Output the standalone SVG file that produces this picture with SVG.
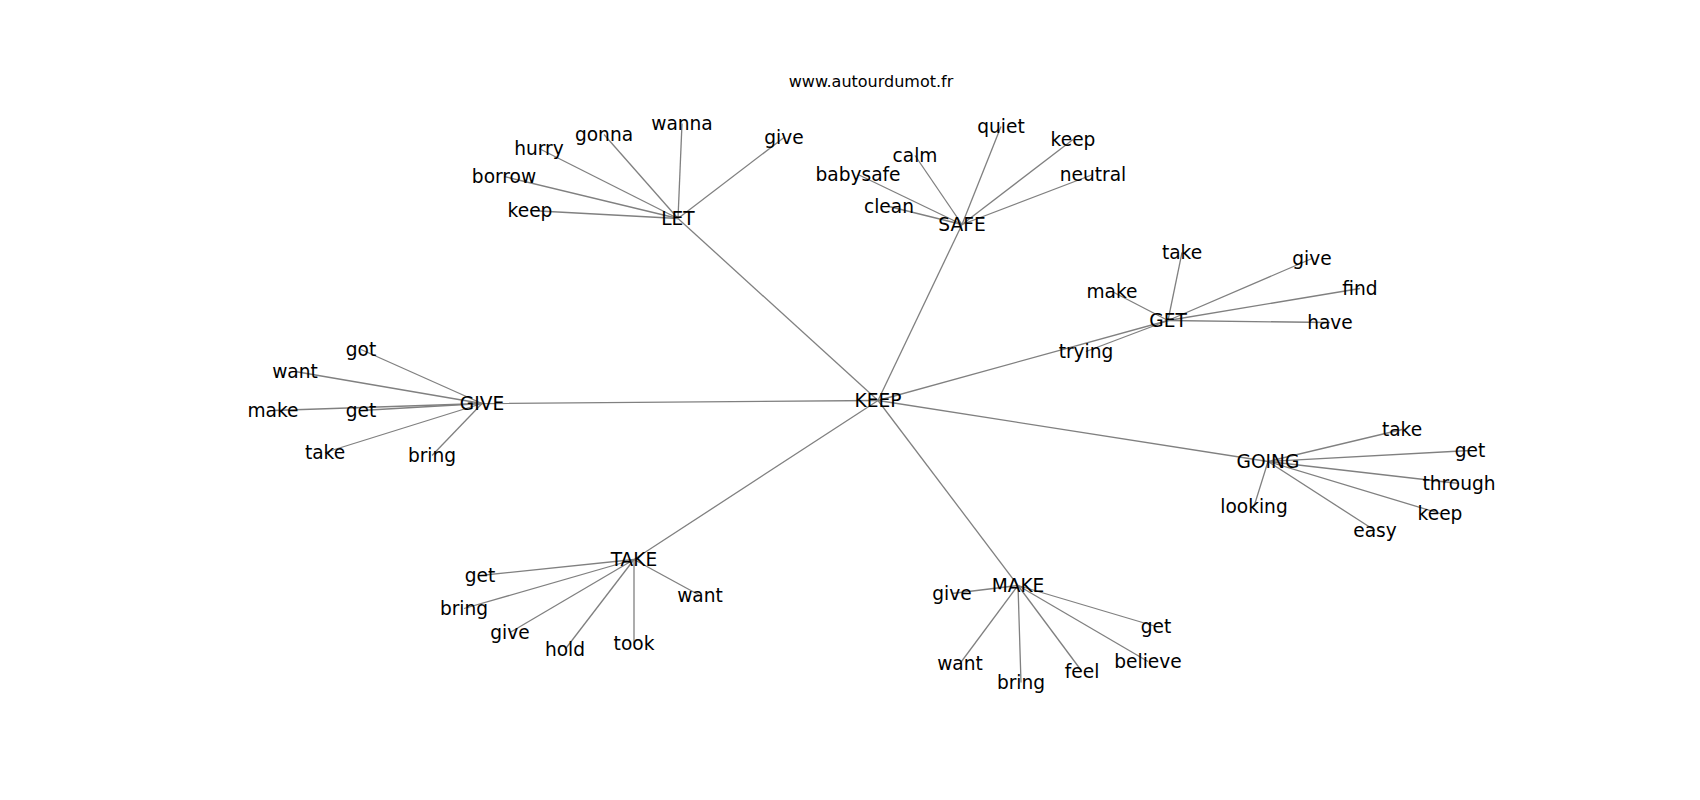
<svg xmlns="http://www.w3.org/2000/svg" width="1700" height="800" viewBox="0 0 1700 800">
<style>
text{font-family:"DejaVu Sans","Liberation Sans",sans-serif;font-size:18.6px;fill:#000;text-anchor:middle}
.title{font-size:16px}
#edges line{stroke:#808080;stroke-width:1.3}
</style>
<rect width="1700" height="800" fill="#fff"/>
<text class="title" x="871" y="87">www.autourdumot.fr</text>
<g id="edges">
<line x1="878" y1="400.5" x2="678" y2="218.5"/>
<line x1="878" y1="400.5" x2="962" y2="224.5"/>
<line x1="878" y1="400.5" x2="1168" y2="320.5"/>
<line x1="878" y1="400.5" x2="482" y2="403.5"/>
<line x1="878" y1="400.5" x2="1268" y2="461.5"/>
<line x1="878" y1="400.5" x2="634" y2="559.5"/>
<line x1="878" y1="400.5" x2="1018" y2="585.5"/>
<line x1="678" y1="218.5" x2="530" y2="210.5"/>
<line x1="678" y1="218.5" x2="504" y2="176.5"/>
<line x1="678" y1="218.5" x2="539" y2="148.5"/>
<line x1="678" y1="218.5" x2="604" y2="134.5"/>
<line x1="678" y1="218.5" x2="682" y2="123.5"/>
<line x1="678" y1="218.5" x2="784" y2="137.5"/>
<line x1="962" y1="224.5" x2="889" y2="206.5"/>
<line x1="962" y1="224.5" x2="858" y2="174.5"/>
<line x1="962" y1="224.5" x2="915" y2="155.5"/>
<line x1="962" y1="224.5" x2="1001" y2="126.5"/>
<line x1="962" y1="224.5" x2="1073" y2="139.5"/>
<line x1="962" y1="224.5" x2="1093" y2="174.5"/>
<line x1="1168" y1="320.5" x2="1182" y2="252.5"/>
<line x1="1168" y1="320.5" x2="1112" y2="291.5"/>
<line x1="1168" y1="320.5" x2="1312" y2="258.5"/>
<line x1="1168" y1="320.5" x2="1360" y2="288.5"/>
<line x1="1168" y1="320.5" x2="1330" y2="322.5"/>
<line x1="1168" y1="320.5" x2="1086" y2="351.5"/>
<line x1="482" y1="403.5" x2="361" y2="349.5"/>
<line x1="482" y1="403.5" x2="295" y2="371.5"/>
<line x1="482" y1="403.5" x2="273" y2="410.5"/>
<line x1="482" y1="403.5" x2="361" y2="410.5"/>
<line x1="482" y1="403.5" x2="325" y2="452.5"/>
<line x1="482" y1="403.5" x2="432" y2="455.5"/>
<line x1="1268" y1="461.5" x2="1402" y2="429.5"/>
<line x1="1268" y1="461.5" x2="1470" y2="450.5"/>
<line x1="1268" y1="461.5" x2="1459" y2="483.5"/>
<line x1="1268" y1="461.5" x2="1440" y2="513.5"/>
<line x1="1268" y1="461.5" x2="1375" y2="530.5"/>
<line x1="1268" y1="461.5" x2="1254" y2="506.5"/>
<line x1="634" y1="559.5" x2="480" y2="575.5"/>
<line x1="634" y1="559.5" x2="464" y2="608.5"/>
<line x1="634" y1="559.5" x2="510" y2="632.5"/>
<line x1="634" y1="559.5" x2="565" y2="649.5"/>
<line x1="634" y1="559.5" x2="634" y2="643.5"/>
<line x1="634" y1="559.5" x2="700" y2="595.5"/>
<line x1="1018" y1="585.5" x2="952" y2="593.5"/>
<line x1="1018" y1="585.5" x2="960" y2="663.5"/>
<line x1="1018" y1="585.5" x2="1021" y2="682.5"/>
<line x1="1018" y1="585.5" x2="1082" y2="671.5"/>
<line x1="1018" y1="585.5" x2="1148" y2="661.5"/>
<line x1="1018" y1="585.5" x2="1156" y2="626.5"/>
</g>
<g id="node-keep"><text x="878" y="407">KEEP</text></g>
<g id="node-let"><text x="678" y="225">LET</text></g>
<g id="node-let-keep"><text x="530" y="217">keep</text></g>
<g id="node-let-borrow"><text x="504" y="183">borrow</text></g>
<g id="node-let-hurry"><text x="539" y="155">hurry</text></g>
<g id="node-let-gonna"><text x="604" y="141">gonna</text></g>
<g id="node-let-wanna"><text x="682" y="130">wanna</text></g>
<g id="node-let-give"><text x="784" y="144">give</text></g>
<g id="node-safe"><text x="962" y="231">SAFE</text></g>
<g id="node-safe-clean"><text x="889" y="213">clean</text></g>
<g id="node-safe-babysafe"><text x="858" y="181">babysafe</text></g>
<g id="node-safe-calm"><text x="915" y="162">calm</text></g>
<g id="node-safe-quiet"><text x="1001" y="133">quiet</text></g>
<g id="node-safe-keep"><text x="1073" y="146">keep</text></g>
<g id="node-safe-neutral"><text x="1093" y="181">neutral</text></g>
<g id="node-get"><text x="1168" y="327">GET</text></g>
<g id="node-get-take"><text x="1182" y="259">take</text></g>
<g id="node-get-make"><text x="1112" y="298">make</text></g>
<g id="node-get-give"><text x="1312" y="265">give</text></g>
<g id="node-get-find"><text x="1360" y="295">find</text></g>
<g id="node-get-have"><text x="1330" y="329">have</text></g>
<g id="node-get-trying"><text x="1086" y="358">trying</text></g>
<g id="node-give"><text x="482" y="410">GIVE</text></g>
<g id="node-give-got"><text x="361" y="356">got</text></g>
<g id="node-give-want"><text x="295" y="378">want</text></g>
<g id="node-give-make"><text x="273" y="417">make</text></g>
<g id="node-give-get"><text x="361" y="417">get</text></g>
<g id="node-give-take"><text x="325" y="459">take</text></g>
<g id="node-give-bring"><text x="432" y="462">bring</text></g>
<g id="node-going"><text x="1268" y="468">GOING</text></g>
<g id="node-going-take"><text x="1402" y="436">take</text></g>
<g id="node-going-get"><text x="1470" y="457">get</text></g>
<g id="node-going-through"><text x="1459" y="490">through</text></g>
<g id="node-going-keep"><text x="1440" y="520">keep</text></g>
<g id="node-going-easy"><text x="1375" y="537">easy</text></g>
<g id="node-going-looking"><text x="1254" y="513">looking</text></g>
<g id="node-take"><text x="634" y="566">TAKE</text></g>
<g id="node-take-get"><text x="480" y="582">get</text></g>
<g id="node-take-bring"><text x="464" y="615">bring</text></g>
<g id="node-take-give"><text x="510" y="639">give</text></g>
<g id="node-take-hold"><text x="565" y="656">hold</text></g>
<g id="node-take-took"><text x="634" y="650">took</text></g>
<g id="node-take-want"><text x="700" y="602">want</text></g>
<g id="node-make"><text x="1018" y="592">MAKE</text></g>
<g id="node-make-give"><text x="952" y="600">give</text></g>
<g id="node-make-want"><text x="960" y="670">want</text></g>
<g id="node-make-bring"><text x="1021" y="689">bring</text></g>
<g id="node-make-feel"><text x="1082" y="678">feel</text></g>
<g id="node-make-believe"><text x="1148" y="668">believe</text></g>
<g id="node-make-get"><text x="1156" y="633">get</text></g>
</svg>
